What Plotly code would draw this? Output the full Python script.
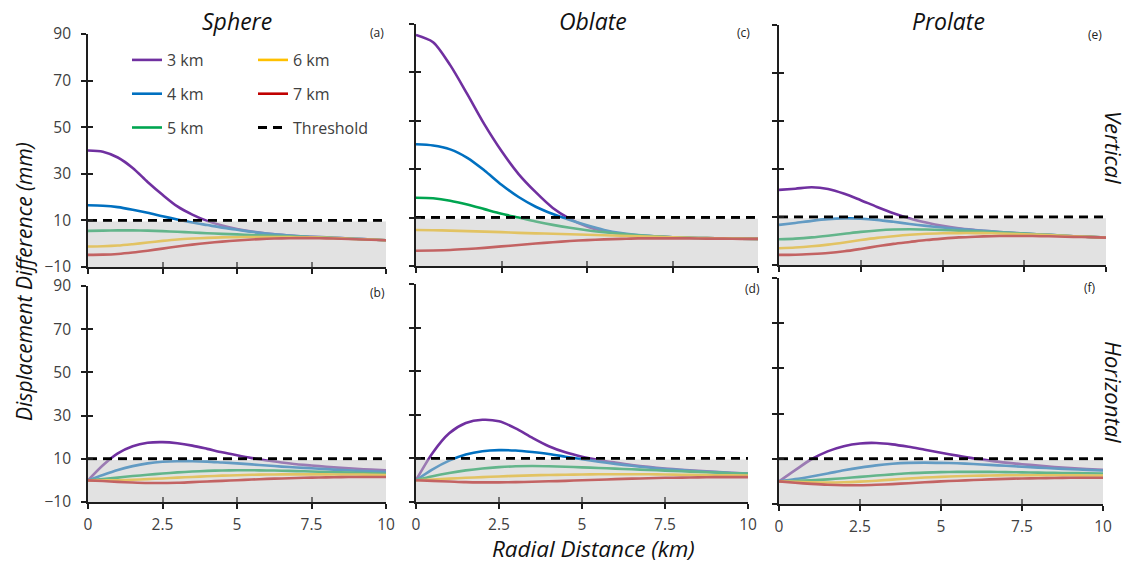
import plotly.graph_objects as go

# ---------------- data ----------------
radial_km = [0, 0.5, 1, 1.5, 2, 2.5, 3, 3.5, 4, 4.5, 5, 5.5, 6, 6.5, 7, 7.5, 8, 8.5, 9, 9.5, 10]
depth_labels = ["3 km", "4 km", "5 km", "6 km", "7 km"]
threshold_mm = 10
panel_letters = ["(a)", "(b)", "(c)", "(d)", "(e)", "(f)"]
shape_names = ["Sphere", "Oblate", "Prolate"]
y_ticks = [-10, 10, 30, 50, 70, 90]
x_ticks = [0, 2.5, 5, 7.5, 10]

# Sphere - vertical (a)
sph_v_3 = [40, 39.5, 37, 32.5, 26.5, 21, 16, 12.5, 9.8, 7.8, 6.3, 5.2, 4.4, 3.8, 3.3, 3, 2.7, 2.4, 2.1, 1.8, 1.5]
sph_v_4 = [16.5, 16.3, 15.7, 14.6, 13.3, 11.8, 10.4, 9.1, 8, 6.9, 6, 5.1, 4.4, 3.8, 3.3, 3, 2.7, 2.4, 2.1, 1.8, 1.5]
sph_v_5 = [5.5, 5.6, 5.7, 5.7, 5.6, 5.4, 5.1, 4.8, 4.5, 4.2, 4, 3.7, 3.5, 3.3, 3.1, 2.8, 2.6, 2.3, 2, 1.8, 1.5]
sph_v_6 = [-1.2, -1.1, -0.8, -0.2, 0.5, 1.2, 1.8, 2.2, 2.5, 2.7, 2.8, 2.9, 2.9, 2.9, 2.8, 2.7, 2.5, 2.3, 2, 1.8, 1.5]
sph_v_7 = [-4.8, -4.7, -4.4, -3.8, -3, -2.1, -1.2, -0.4, 0.3, 0.9, 1.4, 1.8, 2.1, 2.3, 2.4, 2.4, 2.3, 2.1, 1.9, 1.7, 1.5]

# Sphere - horizontal (b)
sph_h_3 = [0, 7, 12.5, 15.8, 17.4, 17.7, 17.2, 16.1, 14.6, 13, 11.6, 10.3, 9.2, 8.3, 7.5, 6.9, 6.3, 5.8, 5.4, 5, 4.7]
sph_h_4 = [0, 2.5, 4.8, 6.6, 7.9, 8.6, 8.9, 8.9, 8.7, 8.3, 7.9, 7.4, 6.9, 6.4, 6, 5.6, 5.2, 4.8, 4.5, 4.2, 3.9]
sph_h_5 = [0, 0.6, 1.3, 2, 2.6, 3.2, 3.7, 4.1, 4.4, 4.6, 4.7, 4.7, 4.6, 4.5, 4.3, 4.1, 3.9, 3.7, 3.5, 3.3, 3.1]
sph_h_6 = [0, 0, 0.1, 0.3, 0.6, 0.9, 1.3, 1.6, 1.9, 2.2, 2.4, 2.6, 2.7, 2.8, 2.8, 2.8, 2.8, 2.7, 2.7, 2.6, 2.5]
sph_h_7 = [0, -0.3, -0.7, -1, -1.2, -1.2, -1.1, -0.8, -0.5, -0.2, 0.1, 0.4, 0.7, 0.9, 1.1, 1.3, 1.4, 1.5, 1.6, 1.6, 1.6]

# Oblate - vertical (c)
obl_v_3 = [85.5, 82.5, 73, 61, 48.5, 37.5, 28, 20.5, 14, 9.5, 6.3, 4.4, 3.3, 2.6, 2.2, 1.9, 1.7, 1.5, 1.4, 1.3, 1.2]
obl_v_4 = [40.3, 39.8, 38.2, 34.7, 29.5, 23.6, 18.5, 14.5, 11.5, 9, 6.8, 4.9, 3.6, 2.8, 2.3, 1.9, 1.7, 1.5, 1.4, 1.3, 1.2]
obl_v_5 = [18.2, 18, 17, 15.4, 13.5, 11.6, 10, 8.4, 7, 5.8, 4.8, 4, 3.3, 2.7, 2.3, 1.9, 1.7, 1.5, 1.4, 1.3, 1.2]
obl_v_6 = [4.9, 4.8, 4.6, 4.4, 4.2, 4, 3.7, 3.5, 3.3, 3.1, 2.9, 2.7, 2.5, 2.3, 2.1, 1.9, 1.7, 1.5, 1.4, 1.3, 1.2]
obl_v_7 = [-3.7, -3.6, -3.4, -3, -2.5, -1.9, -1.3, -0.7, -0.2, 0.3, 0.7, 1, 1.2, 1.4, 1.4, 1.4, 1.4, 1.3, 1.3, 1.2, 1.2]

# Oblate - horizontal (d)
obl_h_3 = [0, 12.5, 21.5, 26.2, 27.7, 27, 23.8, 19.5, 15.6, 12.8, 10.8, 9.3, 8.1, 7, 6.1, 5.4, 4.8, 4.3, 3.8, 3.4, 3.1]
obl_h_4 = [0, 5, 9, 11.8, 13.3, 13.8, 13.6, 12.9, 12, 10.8, 9.6, 8.5, 7.5, 6.6, 5.8, 5.1, 4.6, 4.1, 3.7, 3.3, 3]
obl_h_5 = [0, 1.8, 3.3, 4.5, 5.4, 6, 6.4, 6.5, 6.4, 6.2, 5.9, 5.6, 5.3, 5, 4.7, 4.4, 4.1, 3.8, 3.5, 3.2, 3]
obl_h_6 = [0, 0.3, 0.7, 1.1, 1.4, 1.7, 2, 2.2, 2.4, 2.5, 2.6, 2.7, 2.7, 2.7, 2.7, 2.6, 2.5, 2.4, 2.3, 2.2, 2.1]
obl_h_7 = [0, -0.3, -0.6, -0.9, -1, -1, -0.9, -0.7, -0.5, -0.3, 0, 0.2, 0.5, 0.7, 0.9, 1.1, 1.2, 1.3, 1.4, 1.4, 1.4]

# Prolate - vertical (e)
pro_v_3 = [21.3, 21.8, 22.4, 21.7, 19.7, 17, 14.2, 11.6, 9.4, 7.7, 6.3, 5.3, 4.6, 4, 3.5, 3.1, 2.7, 2.4, 2, 1.7, 1.4]
pro_v_4 = [6.7, 7.5, 8.4, 9.1, 9.4, 9.3, 8.8, 8, 7.1, 6.3, 5.6, 5, 4.5, 4, 3.5, 3.1, 2.7, 2.4, 2, 1.7, 1.4]
pro_v_5 = [0.7, 1, 1.5, 2.2, 3, 3.8, 4.4, 4.8, 4.9, 4.8, 4.6, 4.3, 4, 3.7, 3.4, 3.1, 2.7, 2.4, 2, 1.7, 1.4]
pro_v_6 = [-3, -2.7, -2.2, -1.5, -0.6, 0.4, 1.3, 2, 2.6, 3, 3.2, 3.3, 3.3, 3.2, 3, 2.8, 2.6, 2.3, 2, 1.7, 1.4]
pro_v_7 = [-5.8, -5.7, -5.4, -5, -4.3, -3.3, -2.2, -1.2, -0.4, 0.4, 1, 1.5, 1.8, 2, 2.1, 2.1, 2, 1.9, 1.7, 1.6, 1.4]

# Prolate - horizontal (f)
pro_h_3 = [0, 5, 9.8, 13.3, 15.6, 16.8, 17, 16.4, 15.3, 14, 12.7, 11.4, 10.2, 9.2, 8.3, 7.6, 7, 6.4, 5.9, 5.5, 5.1]
pro_h_4 = [0, 1, 2.2, 3.5, 4.9, 6.1, 7.1, 7.8, 8.2, 8.3, 8.2, 8, 7.7, 7.3, 6.9, 6.5, 6.1, 5.7, 5.4, 5.1, 4.8]
pro_h_5 = [0, 0.2, 0.5, 0.9, 1.4, 2, 2.6, 3.1, 3.6, 3.9, 4.1, 4.2, 4.2, 4.2, 4.1, 4, 3.9, 3.8, 3.7, 3.6, 3.5]
pro_h_6 = [0, -0.2, -0.4, -0.5, -0.4, -0.1, 0.3, 0.8, 1.3, 1.7, 2, 2.3, 2.5, 2.6, 2.7, 2.7, 2.7, 2.7, 2.7, 2.6, 2.6]
pro_h_7 = [0, -0.6, -1.1, -1.5, -1.7, -1.7, -1.5, -1.2, -0.8, -0.4, 0, 0.3, 0.6, 0.9, 1.1, 1.3, 1.4, 1.5, 1.6, 1.6, 1.6]

panels = [
    [sph_v_3, sph_v_4, sph_v_5, sph_v_6, sph_v_7],
    [sph_h_3, sph_h_4, sph_h_5, sph_h_6, sph_h_7],
    [obl_v_3, obl_v_4, obl_v_5, obl_v_6, obl_v_7],
    [obl_h_3, obl_h_4, obl_h_5, obl_h_6, obl_h_7],
    [pro_v_3, pro_v_4, pro_v_5, pro_v_6, pro_v_7],
    [pro_h_3, pro_h_4, pro_h_5, pro_h_6, pro_h_7],
]

# ---------------- styling ----------------
W, H = 1128, 565
colors = ["#7030A0", "#0070C0", "#00A550", "#FFC000", "#C00000"]
axis_col = "#1e1e1e"
text_col = "#404040"
FONT = "Open Sans"
band_top = 9.5

# subplot domains in pixels (left, right, top, bottom)
dom_px = [
    (88, 386, 34, 267),
    (88, 386, 286, 502),
    (416, 758, 24, 266),
    (416, 748, 284, 502),
    (779, 1106, 25, 265),
    (779, 1103, 278, 504),
]

fig = go.Figure()

for i, series in enumerate(panels):
    n = i + 1
    xa = "x" if n == 1 else f"x{n}"
    ya = "y" if n == 1 else f"y{n}"
    for d, (lab, col, vals) in enumerate(zip(depth_labels, colors, series)):
        fig.add_trace(go.Scatter(
            x=radial_km, y=vals, mode="lines", name=lab,
            line=dict(color=col, width=2.6, shape="spline", smoothing=0.8),
            xaxis=xa, yaxis=ya, legendgroup=lab,
            legend="legend" if d < 3 else "legend2",
            showlegend=(i == 0), hoverinfo="skip",
        ))
    fig.add_trace(go.Scatter(
        x=[radial_km[0], radial_km[-1]], y=[threshold_mm, threshold_mm],
        mode="lines", name="Threshold",
        line=dict(color="black", width=3, dash="9px,6px"),
        xaxis=xa, yaxis=ya, legendgroup="Threshold", legend="legend2",
        showlegend=(i == 0), hoverinfo="skip",
    ))
    # translucent band drawn above the lines
    fig.add_shape(type="rect", xref=xa, yref=ya,
                  x0=radial_km[0], x1=radial_km[-1], y0=y_ticks[0], y1=band_top,
                  fillcolor="#c6c6c6", opacity=0.5, line_width=0, layer="above")
    # helper empty trace for overlay axes (inside ticks -> crossing ticks)
    fig.add_trace(go.Scatter(x=[], y=[], xaxis=f"x{n+6}", yaxis=f"y{n+6}",
                             showlegend=False, hoverinfo="skip"))

layout = {}
for i, (l, r, t, b) in enumerate(dom_px):
    n = i + 1
    sx = "" if n == 1 else str(n)
    xdom = [l / W, r / W]
    ydom = [1 - b / H, 1 - t / H]
    bottom = (i % 2 == 1)
    left = (i < 2)
    layout[f"xaxis{sx}"] = dict(
        domain=xdom, anchor=f"y{sx}", range=[0, 10], tickvals=x_ticks,
        ticktext=[f"{v:g}" for v in x_ticks],
        showticklabels=bottom, ticks="outside", ticklen=5, tickwidth=1.5,
        tickcolor=axis_col, showline=True, linecolor=axis_col, linewidth=1.6,
        showgrid=False, zeroline=False, fixedrange=True, automargin=False,
        tickfont=dict(family=FONT, size=15.5, color=text_col), ticklabelstandoff=3,
    )
    layout[f"yaxis{sx}"] = dict(
        domain=ydom, anchor=f"x{sx}", range=[-10, 90], tickvals=y_ticks,
        showticklabels=left, ticks="outside", ticklen=5, tickwidth=1.5,
        tickcolor=axis_col, showline=True, linecolor=axis_col, linewidth=1.6,
        showgrid=False, zeroline=False, fixedrange=True, automargin=False,
        tickfont=dict(family=FONT, size=15.5, color=text_col), ticklabelstandoff=7,
    )
    layout[f"xaxis{n+6}"] = dict(
        overlaying=f"x{sx}", anchor=f"y{sx}", range=[0, 10], tickvals=x_ticks,
        showticklabels=False, ticks="inside", ticklen=5, tickwidth=1.5,
        tickcolor=axis_col, showline=False, showgrid=False, zeroline=False,
        automargin=False,
    )
    layout[f"yaxis{n+6}"] = dict(
        overlaying=f"y{sx}", anchor=f"x{sx}", range=[-10, 90], tickvals=y_ticks,
        showticklabels=False, ticks="inside", ticklen=5, tickwidth=1.5,
        tickcolor=axis_col, showline=False, showgrid=False, zeroline=False,
        automargin=False,
    )


def ann(text, px, py, size, color="#111111", angle=0):
    return dict(text=text, x=px / W, y=1 - py / H, xref="paper", yref="paper",
                xanchor="center", yanchor="middle", showarrow=False, textangle=angle,
                font=dict(family=FONT, size=size, color=color))


annotations = []
title_x = [237, 593, 948]
for name, px in zip(shape_names, title_x):
    annotations.append(ann(f"<i>{name}</i>", px, 21, 23))
letter_pos = [(377, 33), (377, 292), (743, 33), (752, 288), (1095, 34), (1090, 287)]
for lab, (px, py) in zip(panel_letters, letter_pos):
    annotations.append(ann(lab, px, py, 12, "#222222"))
annotations.append(ann("<i>Vertical</i>", 1114, 147, 22, angle=90))
annotations.append(ann("<i>Horizontal</i>", 1114, 392, 22, angle=90))
annotations.append(ann("<i>Displacement Difference (mm)</i>", 24, 282, 21, angle=-90))
annotations.append(ann("<i>Radial Distance (km)</i>", 593, 548, 22.5))

leg_common = dict(yanchor="top", xanchor="left", bgcolor="rgba(0,0,0,0)",
                  font=dict(family=FONT, size=16, color=text_col), tracegroupgap=10,
                  itemclick=False, itemdoubleclick=False)
fig.update_layout(
    **layout,
    width=W, height=H, autosize=False,
    margin=dict(l=0, r=0, t=0, b=0, pad=0, autoexpand=False),
    paper_bgcolor="white", plot_bgcolor="rgba(0,0,0,0)",
    annotations=annotations,
    legend=dict(x=127 / W, y=1 - 43 / H, **leg_common),
    legend2=dict(x=253 / W, y=1 - 43 / H, **leg_common),
    font=dict(family=FONT),
)

fig.write_html("out.html")
